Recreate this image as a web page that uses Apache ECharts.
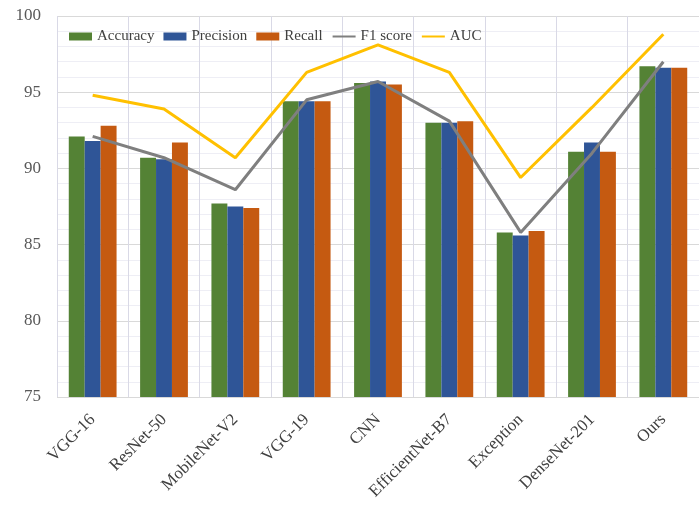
<!DOCTYPE html>
<html>
<head>
    <meta charset="utf-8">
    <title>ECharts</title>
    <script src="https://cdn.jsdelivr.net/npm/echarts@6/dist/echarts.min.js"></script>
    <style>
        html, body { margin: 0; padding: 0; background: #fff; }
    </style>
</head>
<body>
<div id="main" style="width: 699px;height:512px;"></div>
<script type="text/javascript">
    // model names on the x axis
    var models = ['VGG-16', 'ResNet-50', 'MobileNet-V2', 'VGG-19', 'CNN',
        'EfficientNet-B7', 'Exception', 'DenseNet-201', 'Ours'];
    // values
    var accuracy  = [92.1, 90.7, 87.7, 94.4, 95.6, 93.0, 85.8, 91.1, 96.7];
    var precision = [91.8, 90.6, 87.5, 94.4, 95.7, 93.0, 85.6, 91.7, 96.6];
    var recall    = [92.8, 91.7, 87.4, 94.4, 95.5, 93.1, 85.9, 91.1, 96.6];
    var f1score   = [92.1, 90.7, 88.6, 94.5, 95.7, 93.1, 85.8, 91.0, 97.0];
    var auc       = [94.8, 93.9, 90.7, 96.3, 98.1, 96.3, 89.4, 94.0, 98.8];
    var yTicks    = [75, 80, 85, 90, 95, 100];

    var myChart = echarts.init(document.getElementById('main'));
    var serif = '"Liberation Serif", "DejaVu Serif", serif';

    function barSeries(name, data, color) {
        return {
            name: name,
            type: 'bar',
            data: data,
            barGap: 0,
            barCategoryGap: '33%',
            itemStyle: { color: color }
        };
    }
    function lineSeries(name, data, color) {
        return {
            name: name,
            type: 'line',
            data: data,
            symbol: 'none',
            lineStyle: { color: color, width: 3 },
            itemStyle: { color: color }
        };
    }

    myChart.setOption({
        animation: false,
        textStyle: { fontFamily: serif },
        legend: {
            top: 24,
            left: 64,
            itemWidth: 23,
            itemHeight: 8,
            itemGap: 9,
            textStyle: { fontFamily: serif, fontSize: 15, color: '#404040' },
            data: [
                { name: 'Accuracy', icon: 'rect' },
                { name: 'Precision', icon: 'rect' },
                { name: 'Recall', icon: 'rect' },
                { name: 'F1 score', itemStyle: { opacity: 0 } },
                { name: 'AUC', itemStyle: { opacity: 0 } }
            ]
        },
        grid: { left: 57, right: 0, top: 16, bottom: 115 },
        xAxis: {
            type: 'category',
            data: models,
            axisLine: { show: false },
            axisTick: { show: false },
            splitLine: { show: true, lineStyle: { color: '#d9d9e6', width: 1 } },
            axisLabel: {
                rotate: 45,
                margin: 20,
                interval: 0,
                fontFamily: serif,
                fontSize: 17,
                color: '#404040'
            }
        },
        yAxis: {
            type: 'value',
            min: yTicks[0],
            max: yTicks[yTicks.length - 1],
            interval: 5,
            axisLine: { show: false },
            axisTick: { show: false },
            axisLabel: { fontFamily: serif, fontSize: 17, color: '#595959', margin: 16 },
            splitLine: { show: true, lineStyle: { color: '#d9d9d9', width: 1 } },
            minorTick: { show: false, splitNumber: 5 },
            minorSplitLine: { show: true, lineStyle: { color: '#eeeef5', width: 1 } }
        },
        series: [
            barSeries('Accuracy', accuracy, '#548235'),
            barSeries('Precision', precision, '#2f5597'),
            barSeries('Recall', recall, '#c55a11'),
            lineSeries('F1 score', f1score, '#7f7f7f'),
            lineSeries('AUC', auc, '#ffc000')
        ]
    });
</script>
</body>
</html>
